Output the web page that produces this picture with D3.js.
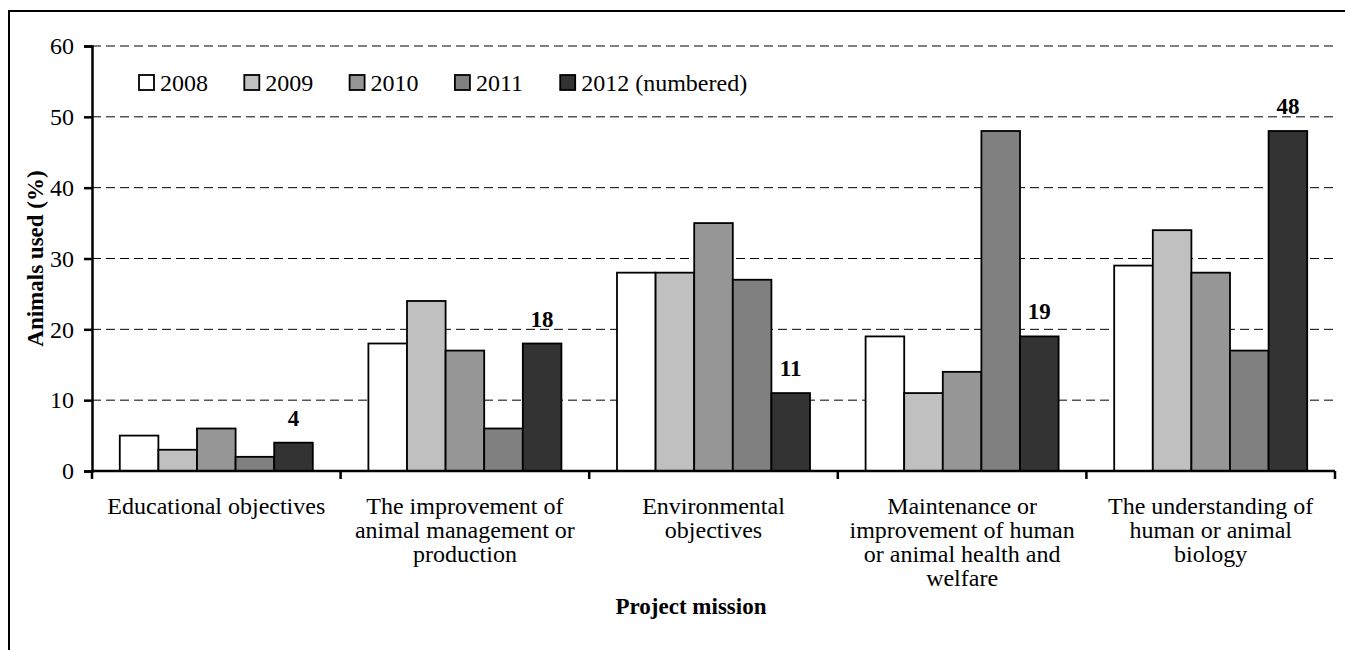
<!DOCTYPE html>
<html>
<head>
<meta charset="utf-8">
<script src="https://cdnjs.cloudflare.com/ajax/libs/d3/7.8.5/d3.min.js"></script>
<style>
  body { margin: 0; background: #fff; }
  svg { display: block; font-family: "Liberation Serif", "Times New Roman", serif; }
</style>
</head>
<body>
<div id="chart"></div>
<script>
// data
const categories = [
  "Educational objectives",
  "The improvement of animal management or production",
  "Environmental objectives",
  "Maintenance or improvement of human or animal health and welfare",
  "The understanding of human or animal biology"
];
// how each category label is broken into lines
const categoryLines = [
  ["Educational objectives"],
  ["The improvement of", "animal management or", "production"],
  ["Environmental", "objectives"],
  ["Maintenance or", "improvement of human", "or animal health and", "welfare"],
  ["The understanding of", "human or animal", "biology"]
];
const years = ["2008", "2009", "2010", "2011", "2012 (numbered)"];
const v2008 = [5, 18, 28, 19, 29];
const v2009 = [3, 24, 28, 11, 34];
const v2010 = [6, 17, 35, 14, 28];
const v2011 = [2, 6, 27, 48, 17];
const v2012 = [4, 18, 11, 19, 48];
const yTicks = [0, 10, 20, 30, 40, 50, 60];
const colors = ["#ffffff", "#c0c0c0", "#969696", "#808080", "#333333"];

const series = [v2008, v2009, v2010, v2011, v2012];

const width = 1345, height = 650;
const margin = {top: 46, right: 10, bottom: 179, left: 92};
const fs = 24;

const svg = d3.select("#chart").append("svg")
  .attr("width", width).attr("height", height);

// outer frame (runs off the right and bottom edges)
svg.append("rect")
  .attr("x", 9).attr("y", 11)
  .attr("width", width).attr("height", height)
  .attr("fill", "none").attr("stroke", "#000").attr("stroke-width", 2);

const x0 = d3.scaleBand().domain(categories)
  .range([margin.left, width - margin.right]).padding(0);
const x1 = d3.scaleBand().domain(d3.range(years.length))
  .range([0, x0.bandwidth()]).paddingInner(0).paddingOuter(0.72);
const y = d3.scaleLinear().domain([0, 60])
  .range([height - margin.bottom, margin.top]);

// dashed gridlines
svg.append("g").selectAll("line")
  .data(yTicks.filter(d => d > 0))
  .join("line")
  .attr("x1", margin.left).attr("x2", width - margin.right)
  .attr("y1", d => y(d)).attr("y2", d => y(d))
  .attr("stroke", "#000").attr("stroke-width", 1)
  .attr("stroke-dasharray", "9,5");

// bars
const groups = svg.append("g").selectAll("g")
  .data(categories)
  .join("g")
  .attr("transform", d => "translate(" + x0(d) + ",0)");

groups.selectAll("rect")
  .data((c, i) => series.map((s, k) => ({k: k, v: s[i]})))
  .join("rect")
  .attr("x", d => x1(d.k))
  .attr("y", d => y(d.v))
  .attr("width", x1.bandwidth())
  .attr("height", d => y(0) - y(d.v))
  .attr("fill", d => colors[d.k])
  .attr("stroke", "#000").attr("stroke-width", 1.8);

// 2012 numbers
groups.append("text")
  .datum((c, i) => v2012[i])
  .attr("x", x1(4) + x1.bandwidth() / 2)
  .attr("y", d => y(d) - 17)
  .attr("text-anchor", "middle")
  .attr("font-weight", "bold")
  .attr("font-size", 23)
  .text(d => d);

// y axis
const yAxis = svg.append("g")
  .attr("transform", "translate(" + margin.left + ",0)")
  .call(d3.axisLeft(y).tickValues(yTicks).tickSize(8).tickPadding(10));
yAxis.select(".domain").attr("stroke-width", 2.5);
yAxis.selectAll(".tick line").attr("stroke-width", 2.5);
yAxis.selectAll(".tick text").attr("font-size", fs)
  .attr("font-family", "Liberation Serif").attr("fill", "#000");

// x axis: boundary ticks
const bounds = categories.map(c => x0(c)).concat([x0.range()[1]]);
svg.append("line")
  .attr("x1", margin.left).attr("x2", x0.range()[1])
  .attr("y1", y(0)).attr("y2", y(0))
  .attr("stroke", "#000").attr("stroke-width", 2.5);
svg.append("g").selectAll("line")
  .data(bounds)
  .join("line")
  .attr("x1", d => d).attr("x2", d => d)
  .attr("y1", y(0)).attr("y2", y(0) + 8)
  .attr("stroke", "#000").attr("stroke-width", 2.5);

// x axis labels
const xAxis = svg.append("g")
  .attr("transform", "translate(0," + y(0) + ")")
  .call(d3.axisBottom(x0).tickSize(0).tickPadding(0));
xAxis.select(".domain").remove();
xAxis.selectAll(".tick text").each(function(d, i) {
  const t = d3.select(this).text(null)
    .attr("font-size", fs).attr("font-family", "Liberation Serif")
    .attr("fill", "#000").attr("dy", null).attr("y", 0);
  categoryLines[i].forEach((line, j) => {
    t.append("tspan").attr("x", 0).attr("y", 43 + j * 24).text(line);
  });
});

// axis titles
svg.append("text")
  .attr("x", 691)
  .attr("y", 614)
  .attr("text-anchor", "middle")
  .attr("font-weight", "bold").attr("font-size", 23)
  .text("Project mission");

svg.append("text")
  .attr("transform", "translate(43," + (y(30)) + ") rotate(-90)")
  .attr("text-anchor", "middle")
  .attr("font-weight", "bold").attr("font-size", 23)
  .text("Animals used (%)");

// legend
const legend = svg.append("g").selectAll("g")
  .data(years)
  .join("g")
  .attr("transform", (d, i) => "translate(" + (139 + i * 105.3) + ",75)");
legend.append("rect")
  .attr("width", 15).attr("height", 15)
  .attr("fill", (d, i) => colors[i])
  .attr("stroke", "#000").attr("stroke-width", 1.8);
legend.append("text")
  .attr("x", 21).attr("y", 16)
  .attr("font-size", fs)
  .text(d => d);
</script>
</body>
</html>
